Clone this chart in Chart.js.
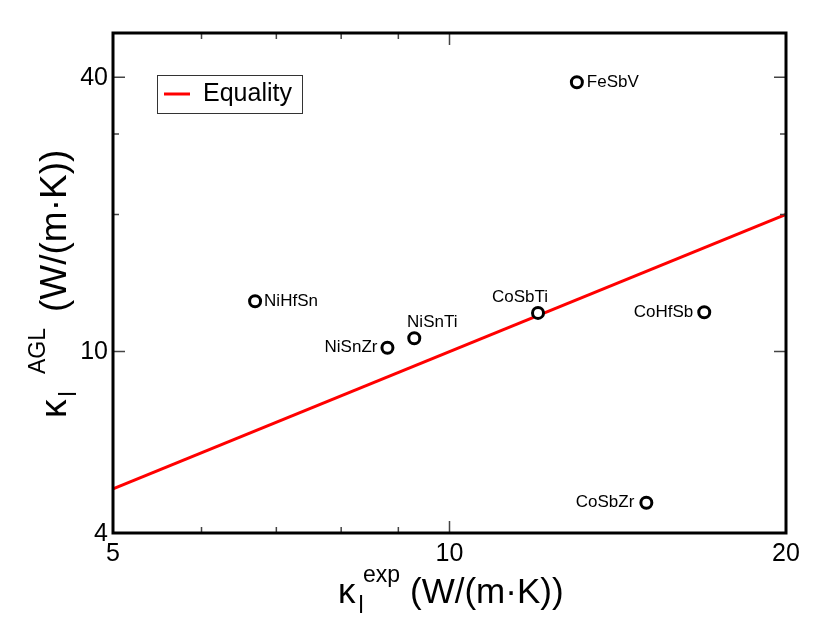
<!DOCTYPE html>
<html>
<head>
<meta charset="utf-8">
<script src="https://cdn.jsdelivr.net/npm/chart.js@4.4.0/dist/chart.umd.min.js"></script>
<style>
  html, body { margin: 0; padding: 0; background: #fff; }
  #wrap { width: 814px; height: 629px; }
</style>
</head>
<body>
<div id="wrap"><canvas id="chart" width="814" height="629"></canvas></div>
<script>
const compounds = ["FeSbV", "NiHfSn", "NiSnZr", "NiSnTi", "CoSbTi", "CoHfSb", "CoSbZr"];
const kappaExp = [13.0, 6.7, 8.8, 9.3, 12.0, 16.9, 15.0];
const kappaAGL = [39.0, 12.9, 10.2, 10.7, 12.16, 12.2, 4.66];
const equalityLine = [5, 20];

const xMajorTicks = [5, 10, 20];
const xMinorTicks = [6, 7, 8, 9];
const yMajorTicks = [4, 10, 40];
const yMinorTicks = [20, 30];

// where each name sits relative to its circle
const labelPlace = {
  FeSbV: { dx: 10, dy: 0, align: "left" },
  NiHfSn: { dx: 9, dy: 0, align: "left" },
  NiSnZr: { dx: -10, dy: 0, align: "right" },
  NiSnTi: { dx: 18, dy: -16, align: "center" },
  CoSbTi: { dx: -18, dy: -16, align: "center" },
  CoHfSb: { dx: -11, dy: 0, align: "right" },
  CoSbZr: { dx: -12, dy: 0, align: "right" }
};

const FONT = "'Liberation Sans', Arial, Helvetica, sans-serif";

const framePlugin = {
  id: "frame",
  afterDatasetsDraw(chart) {
    const ctx = chart.ctx;
    const a = chart.chartArea;
    const xs = chart.scales.x, ys = chart.scales.y;

    // point names
    const meta = chart.getDatasetMeta(1);
    ctx.save();
    ctx.fillStyle = "#000";
    ctx.font = "17px " + FONT;
    ctx.textBaseline = "middle";
    meta.data.forEach((pt, i) => {
      const p = labelPlace[compounds[i]];
      ctx.textAlign = p.align;
      ctx.fillText(compounds[i], pt.x + p.dx, pt.y + p.dy);
    });
    ctx.restore();

    // ticks (inward, all four sides)
    ctx.save();
    ctx.strokeStyle = "#444";
    ctx.lineWidth = 1.5;
    const tick = (vals, len, horiz) => {
      vals.forEach(v => {
        ctx.beginPath();
        if (horiz) {
          const px = xs.getPixelForValue(v);
          ctx.moveTo(px, a.bottom); ctx.lineTo(px, a.bottom - len);
          ctx.moveTo(px, a.top); ctx.lineTo(px, a.top + len);
        } else {
          const py = ys.getPixelForValue(v);
          ctx.moveTo(a.left, py); ctx.lineTo(a.left + len, py);
          ctx.moveTo(a.right, py); ctx.lineTo(a.right - len, py);
        }
        ctx.stroke();
      });
    };
    tick(xMajorTicks, 12, true);
    tick(xMinorTicks, 6, true);
    tick(yMajorTicks, 12, false);
    tick(yMinorTicks, 6, false);
    ctx.restore();

    // frame
    ctx.save();
    ctx.strokeStyle = "#000";
    ctx.lineWidth = 3;
    ctx.strokeRect(a.left, a.top, a.right - a.left, a.bottom - a.top);
    ctx.restore();

    // tick labels
    ctx.save();
    ctx.fillStyle = "#000";
    ctx.font = "25px " + FONT;
    ctx.textAlign = "center";
    ctx.textBaseline = "alphabetic";
    xMajorTicks.forEach(v => ctx.fillText(String(v), xs.getPixelForValue(v), a.bottom + 28));
    ctx.textAlign = "right";
    ctx.textBaseline = "middle";
    yMajorTicks.forEach(v => ctx.fillText(String(v), a.left - 5, ys.getPixelForValue(v) + 1));
    ctx.restore();

    // axis titles: kappa with sub/superscripts
    const title = (sup, x, y, supAt, restAt, size) => {
      ctx.textAlign = "left";
      ctx.textBaseline = "alphabetic";
      ctx.font = size + "px " + FONT;
      ctx.fillText("\u03ba", x, y);
      const kw = ctx.measureText("\u03ba").width;
      ctx.font = "23px " + FONT;
      ctx.fillText("l", x + kw + 3, y + 10);
      ctx.fillText(sup, x + supAt, y - 21);
      ctx.font = size + "px " + FONT;
      ctx.fillText("(W/(m\u00b7K))", x + restAt, y);
    };
    ctx.save();
    ctx.fillStyle = "#000";
    title("exp", 338, 603, 25, 72, 35);
    ctx.translate(66, 418);
    ctx.rotate(-Math.PI / 2);
    title("AGL", 0, 0, 44, 106, 37);
    ctx.restore();

    // legend
    ctx.save();
    ctx.fillStyle = "#fff";
    ctx.fillRect(157, 75, 145, 38);
    ctx.strokeStyle = "#333";
    ctx.lineWidth = 1;
    ctx.strokeRect(157.5, 75.5, 145, 38);
    ctx.strokeStyle = "#ff0000";
    ctx.lineWidth = 3;
    ctx.beginPath();
    ctx.moveTo(164, 94); ctx.lineTo(190, 94);
    ctx.stroke();
    ctx.fillStyle = "#000";
    ctx.font = "25px " + FONT;
    ctx.textAlign = "left";
    ctx.textBaseline = "middle";
    ctx.fillText(chart.data.datasets[0].label, 203, 94);
    ctx.restore();
  }
};

new Chart(document.getElementById("chart"), {
  type: "scatter",
  data: {
    datasets: [
      {
        type: "line",
        label: "Equality",
        data: equalityLine.map(v => ({ x: v, y: v })),
        borderColor: "#ff0000",
        borderWidth: 3,
        pointRadius: 0,
        fill: false,
        order: 2
      },
      {
        label: "AGL vs experiment",
        data: kappaExp.map((v, i) => ({ x: v, y: kappaAGL[i] })),
        pointStyle: "circle",
        pointRadius: 5.5,
        pointBorderWidth: 3,
        pointBorderColor: "#000",
        pointBackgroundColor: "#fff",
        order: 1
      }
    ]
  },
  options: {
    responsive: false,
    animation: false,
    devicePixelRatio: 1,
    layout: { padding: { left: 113, right: 28, top: 33, bottom: 96 } },
    plugins: { legend: { display: false }, tooltip: { enabled: false } },
    scales: {
      x: { type: "logarithmic", min: 5, max: 20, display: false },
      y: { type: "logarithmic", min: 4, max: 50, display: false }
    }
  },
  plugins: [framePlugin]
});
</script>
</body>
</html>
